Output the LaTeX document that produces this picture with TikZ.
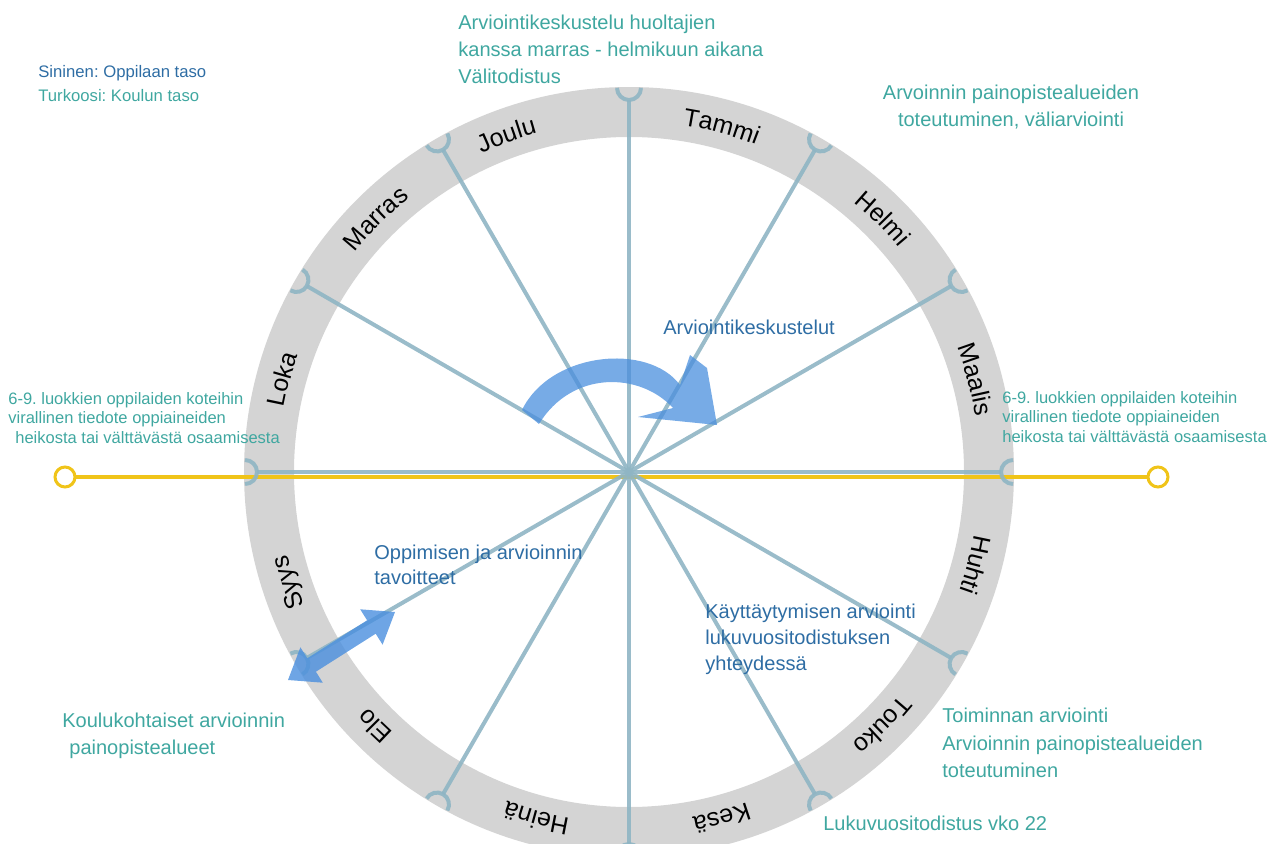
\documentclass[tikz,border=0pt]{standalone}
\usepackage{fontspec}
\setmainfont{Liberation Sans}
\usepackage{xcolor}
\definecolor{turkoosi}{HTML}{3FA7A0}
\definecolor{sininen}{HTML}{2E6DA4}
\definecolor{ringgray}{HTML}{D4D4D4}
\definecolor{spokecol}{HTML}{8FB5C4}
\definecolor{keltainen}{HTML}{F0C419}
\definecolor{nuolisin}{HTML}{4A8FDE}
\usetikzlibrary{decorations.text}
\newcommand{\monthfont}{\fontsize{14.2}{17}\selectfont}
\frenchspacing
\tikzset{spoke/.style = {draw=spokecol, line width=0.08cm, opacity=0.9}}
\tikzset{schooltext/.style = {text=turkoosi, inner sep=0pt, align=left, font=\fontsize{11.4}{15.3}\selectfont}}
\tikzset{pupiltext/.style = {schooltext, text=sininen}}
\tikzset{sidetext/.style = {schooltext, font=\fontsize{9.4}{11.3}\selectfont}}
\tikzset{legendtext/.style = {schooltext, font=\fontsize{9.5}{12}\selectfont}}
\tikzset{ydot/.style = {circle, draw=keltainen, line width=0.06cm, fill=white, minimum size=0.4cm, inner sep=0pt}}
\tikzset{bignuoli/.style = {fill=nuolisin, fill opacity=0.75, draw=none}}

\begin{document}
\begin{tikzpicture}[x=0.02cm, y=0.02cm]
	\useasboundingbox (0,0) rectangle (1285,843);
	\coordinate (hub) at (629,371);
	\draw[ringgray, line width=1cm] (hub) circle[radius=360];
	\foreach \a/\kk in {110/Joulu, 75/Tammi, 45/Helmi, 15/Maalis, -15/Huhti, -45/Touko, -75/Kesä, -105/Heinä, -135/Elo, -162/Syys, 165/Loka, 135/Marras}
		\path[decorate, decoration={text along path, text align=center, text/.expanded={|\noexpand\monthfont|\kk}}]
			([shift={(\a+20:351)}]hub) arc[start angle=\a+20, end angle=\a-20, radius=351];
	\node[ydot] (yv) at (65,366) {};
	\node[ydot] (yo) at (1158,366) {};
	\draw[keltainen, line width=0.08cm] (yv) -- (yo);
	\foreach \a in {0,30,...,330} {
		\coordinate (m\a) at ([shift={(\a:372)}]hub);
		\draw[spoke] (hub) -- (m\a);
		\draw[spoke, shift={(hub)}, rotate=\a] (384,12) arc[start angle=90, end angle=270, radius=12];
	}
	\fill[bignuoli] (522,433) .. controls (550,491) and (648,501) .. (680,458) -- (690,488) -- (707,475)
		-- (717,418) -- (638,426) -- (673,435) .. controls (640,471) and (572,473) .. (539,419) -- cycle;
	\coordinate (n1) at (288,163);
	\coordinate (n2) at (395,231);
	\fill[bignuoli, fill opacity=0.8] (n1) -- (300.4,195.7) -- (307.3,184.7) -- (367.1,222.7) -- (360.2,233.7) -- (n2)
		-- (382.6,198.3) -- (375.7,209.3) -- (315.9,171.3) -- (322.8,160.3) -- cycle;
	\node[legendtext, text=sininen, anchor=west] (sin) at (38,770) {Sininen: Oppilaan taso};
	\node[legendtext, anchor=west] (turk) at (38,747) {Turkoosi: Koulun taso};
	\node[schooltext, anchor=west] (huoltajat) at (458,794) {Arviointikeskustelu huoltajien\\kanssa marras - helmikuun aikana\\Välitodistus};
	\node[schooltext, align=center] (valiarv) at (1011,736) {Arvoinnin painopistealueiden\\toteutuminen, väliarviointi};
	\node[sidetext, anchor=west] (tiedotev) at (8,425) {6-9. luokkien oppilaiden koteihin\\virallinen tiedote oppiaineiden\\\hspace*{4pt}heikosta tai välttävästä osaamisesta};
	\node[sidetext, anchor=west] (tiedoteo) at (1002,426) {6-9. luokkien oppilaiden koteihin\\virallinen tiedote oppiaineiden\\heikosta tai välttävästä osaamisesta};
	\node[pupiltext, anchor=west] (keskust) at (663,516) {Arviointikeskustelut};
	\node[pupiltext, anchor=west, font=\fontsize{11.4}{14.2}\selectfont] (tavoitteet) at (374,278) {Oppimisen ja arvioinnin\\tavoitteet};
	\node[pupiltext, anchor=west, font=\fontsize{11.4}{14.8}\selectfont] (kaytos) at (705,204) {Käyttäytymisen arviointi\\lukuvuositodistuksen\\yhteydessä};
	\node[schooltext, anchor=west, font=\fontsize{11.4}{15.6}\selectfont] (toiminta) at (942,100) {Toiminnan arviointi\\Arvioinnin painopistealueiden\\toteutuminen};
	\node[schooltext, anchor=west] (lukuv) at (823,20) {Lukuvuositodistus vko 22};
	\node[schooltext, anchor=west] (koulukoht) at (62,107) {Koulukohtaiset arvioinnin\\\hspace*{4pt}painopistealueet};
\end{tikzpicture}
\end{document}
